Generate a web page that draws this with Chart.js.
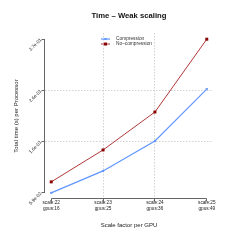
<!DOCTYPE html>
<html>
<head>
<meta charset="utf-8">
<script src="https://cdn.jsdelivr.net/npm/chart.js@4.4.0/dist/chart.umd.min.js"></script>
<style>html,body{margin:0;padding:0;background:#fff}canvas{display:block}</style>
</head>
<body>
<canvas id="chart" width="240" height="240"></canvas>
<script>
// weak scaling timings, one point per problem size
const scaleFactors = [22, 23, 24, 25];
const gpuCounts = [16, 25, 36, 49];
const compression = [0.059, 0.103, 0.163, 0.267];
const noCompression = [0.081, 0.145, 0.221, 0.367];
const yTickValues = [0.059, 0.1617, 0.2643, 0.367];
const yTickLabels = ['5.9e-02', '1.6e-01', '2.6e-01', '3.7e-01'];

const FONT = "'Liberation Sans', Arial, Helvetica, sans-serif";
const TEXT = '#222222';
const GRID = '#d2d2d2';
const AXIS = '#666666';
const BLUE = '#5f96ff';
const RED = '#8b0000';
const RED_LINE = '#a82020';

const xLabels = scaleFactors.map((s, i) => ['scale:' + s, 'gpus:' + gpuCounts[i]]);

// R-style 4% padding around the data range
const allY = compression.concat(noCompression);
const yLo = Math.min(...allY), yHi = Math.max(...allY);
const yPad = (yHi - yLo) * 0.04;
const xPad = (scaleFactors.length - 1) * 0.04;

const interiorOnly = (n) => (c) => (c.index > 0 && c.index < n - 1) ? GRID : 'rgba(0,0,0,0)';

// axis lines only span first..last tick, like base R axis()
const axisLines = {
  id: 'axisLines',
  afterDraw(chart) {
    const {ctx, chartArea} = chart;
    const xs = chart.scales.x, ys = chart.scales.y;
    const ax = Math.round(chartArea.left) - 0.5;
    const ay = Math.round(chartArea.bottom) - 0.5;
    ctx.save();
    ctx.strokeStyle = AXIS;
    ctx.lineWidth = 1;
    ctx.beginPath();
    ctx.moveTo(ax, ys.getPixelForValue(yTickValues[0]));
    ctx.lineTo(ax, ys.getPixelForValue(yTickValues[yTickValues.length - 1]));
    ctx.moveTo(xs.getPixelForValue(0), ay);
    ctx.lineTo(xs.getPixelForValue(scaleFactors.length - 1), ay);
    ctx.stroke();
    ctx.restore();
  }
};

const insetLegend = {
  id: 'insetLegend',
  afterDatasetsDraw(chart) {
    const {ctx, chartArea} = chart;
    const x0 = chartArea.left + 56;
    ctx.save();
    ctx.font = '4.8px ' + FONT;
    ctx.textBaseline = 'middle';
    chart.data.datasets.forEach((ds, i) => {
      const yy = chartArea.top + 6 + i * 5;
      ctx.strokeStyle = ds.borderColor;
      ctx.lineWidth = ds.borderWidth;
      ctx.beginPath();
      ctx.moveTo(x0, yy);
      ctx.lineTo(x0 + 9, yy);
      ctx.stroke();
      const sz = ds.pointRadius * Math.SQRT2;
      ctx.fillStyle = ds.pointBackgroundColor;
      ctx.fillRect(x0 + 4.5 - sz / 2, yy - sz / 2, sz, sz);
      ctx.fillStyle = '#333';
      ctx.fillText(ds.label, x0 + 15, yy);
    });
    ctx.restore();
  }
};

function series(label, values, lineColor, pointColor, r, w) {
  return {
    label,
    data: values.map((v, i) => ({x: i, y: v})),
    borderColor: lineColor,
    backgroundColor: pointColor,
    pointBackgroundColor: pointColor,
    borderWidth: w,
    pointStyle: 'rect',
    pointRadius: r,
    pointBorderWidth: 0,
    tension: 0
  };
}

new Chart(document.getElementById('chart'), {
  type: 'line',
  data: {
    datasets: [
      series('Compression', compression, BLUE, BLUE, 1.45, 1.2),
      series('No\u2013compression', noCompression, RED_LINE, RED, 2.1, 0.9)
    ]
  },
  options: {
    responsive: false,
    animation: false,
    devicePixelRatio: 1,
    layout: {padding: {left: 0, right: 27, top: 0, bottom: 0}},
    plugins: {
      legend: {display: false},
      tooltip: {enabled: false},
      title: {
        display: true,
        fullSize: false,
        text: 'Time \u2013 Weak scaling',
        color: '#111',
        font: {family: FONT, size: 7.7, weight: 'bold'},
        padding: {top: 11.4, bottom: 12.4}
      }
    },
    scales: {
      x: {
        type: 'linear',
        min: -xPad,
        max: scaleFactors.length - 1 + xPad,
        afterBuildTicks: (s) => { s.ticks = scaleFactors.map((_, i) => ({value: i})); },
        afterFit: (s) => { s.height = 41; },
        ticks: {
          callback: (v) => xLabels[v],
          font: {family: FONT, size: 4.7},
          color: TEXT,
          padding: -1.5,
          maxRotation: 0,
          autoSkip: false
        },
        grid: {color: interiorOnly(scaleFactors.length), tickColor: AXIS, tickLength: 2.5, lineWidth: 1},
        border: {display: false, dash: [1.5, 1.5]},
        title: {
          display: true,
          text: 'Scale factor per GPU',
          color: TEXT,
          font: {family: FONT, size: 6},
          padding: {top: 0, bottom: 11}
        }
      },
      y: {
        type: 'linear',
        min: yLo - yPad,
        max: yHi + yPad,
        afterBuildTicks: (s) => { s.ticks = yTickValues.map(v => ({value: v})); },
        afterFit: (s) => { s.width = 45; },
        ticks: {
          callback: (v, i) => yTickLabels[i],
          font: {family: FONT, size: 4.7},
          color: TEXT,
          padding: 0.5,
          minRotation: 45,
          maxRotation: 45,
          autoSkip: false
        },
        grid: {color: interiorOnly(yTickValues.length), tickColor: AXIS, tickLength: 3.5, lineWidth: 1},
        border: {display: false, dash: [1.5, 1.5]},
        title: {
          display: true,
          text: 'Total time (s) per Processor',
          color: TEXT,
          font: {family: FONT, size: 6},
          padding: {top: 13, bottom: 0}
        }
      }
    }
  },
  plugins: [axisLines, insetLegend]
});
</script>
</body>
</html>
